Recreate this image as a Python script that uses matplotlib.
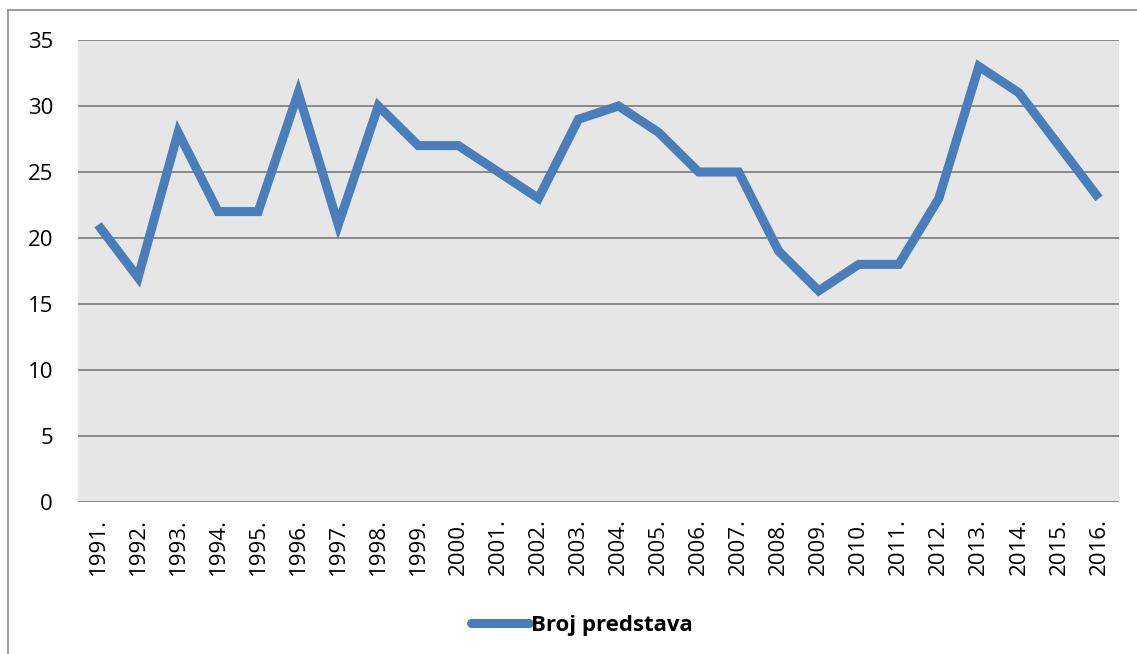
import matplotlib
matplotlib.use("Agg")
import matplotlib.pyplot as plt
from matplotlib.lines import Line2D

years = ["1991.", "1992.", "1993.", "1994.", "1995.", "1996.", "1997.", "1998.", "1999.", "2000.",
         "2001.", "2002.", "2003.", "2004.", "2005.", "2006.", "2007.", "2008.", "2009.", "2010.",
         "2011.", "2012.", "2013.", "2014.", "2015.", "2016."]
values = [21, 17, 28, 22, 22, 31, 21, 30, 27, 27, 25, 23, 29, 30, 28, 25, 25, 19, 16, 18, 18, 23, 33, 31, 27, 23]
series_name = "Broj predstava"
yticks = [0, 5, 10, 15, 20, 25, 30, 35]

plt.rcParams['font.family'] = ['Open Sans', 'DejaVu Sans']

W, H = 1137, 654
fig = plt.figure(figsize=(W / 100, H / 100), dpi=100)
ax = fig.add_axes([78 / W, 1 - 502 / H, (1119 - 78) / W, (502 - 40) / H])
ax.set_facecolor('#E6E6E6')

x = list(range(len(years)))
ax.plot(x, values, color='#4A7EBB', linewidth=6.5, solid_joinstyle='miter', solid_capstyle='butt',
        label=series_name, zorder=3)

ax.set_xlim(-0.5, len(years) - 0.5)
ax.set_ylim(0, 35)
ax.set_yticks(yticks)
ax.set_xticks(x)
ax.set_xticklabels(years, rotation=90, fontsize=16)
ax.tick_params(axis='y', labelsize=16, length=0, pad=18)
ax.tick_params(axis='x', length=0, pad=11.5)
for v in yticks:
    ax.axhline(v, color='#898989', linewidth=1.4, zorder=1)
for s in ax.spines.values():
    s.set_visible(False)

handle = Line2D([0], [0], color='#4A7EBB', linewidth=6.5, solid_capstyle='round')
leg = fig.legend([handle], [series_name], loc='center', bbox_to_anchor=(582 / W, 1 - 625 / H),
                 frameon=False, handlelength=2.6, handletextpad=0.1,
                 prop={'weight': 'bold', 'size': 16})

# outer chart border
fig.add_artist(Line2D([8 / W, 8 / W], [0, 1 - 10 / H], color='#8C8C8C', linewidth=1.2,
                      transform=fig.transFigure))
fig.add_artist(Line2D([8 / W, 1], [1 - 10 / H, 1 - 10 / H], color='#8C8C8C', linewidth=1.2,
                      transform=fig.transFigure))

fig.savefig('out.png', dpi=100)
